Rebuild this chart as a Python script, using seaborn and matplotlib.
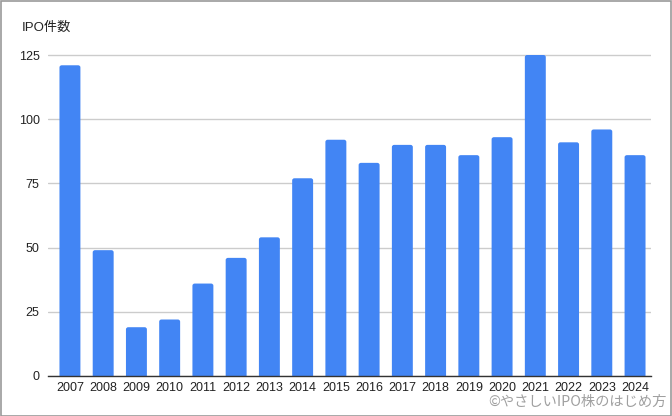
import matplotlib
matplotlib.use("Agg")
import matplotlib.pyplot as plt
from matplotlib.patches import FancyBboxPatch
import seaborn as sns
import pandas as pd

years = ["2007", "2008", "2009", "2010", "2011", "2012", "2013", "2014", "2015",
         "2016", "2017", "2018", "2019", "2020", "2021", "2022", "2023", "2024"]
ipo_counts = [121, 49, 19, 22, 36, 46, 54, 77, 92, 83, 90, 90, 86, 93, 125, 91, 96, 86]
y_ticks = [0, 25, 50, 75, 100, 125]
y_title = "IPO件数"
watermark = "©やさしいIPO株のはじめ方"

sns.set_theme(style="white")
plt.rcParams['font.family'] = ['Liberation Sans', 'Noto Sans CJK JP', 'DejaVu Sans']

df = pd.DataFrame({"year": years, "count": ipo_counts})

fig = plt.figure(figsize=(6.72, 4.16), dpi=100)
# 0 at y=376px, 125 at y=55px; top of axes extends slightly beyond 125
ymax = 127
px_per_unit = (376 - 55) / 125
ax_h = ymax * px_per_unit
ax = fig.add_axes([48/672, 40/416, (651-48)/672, ax_h/416])

sns.barplot(data=df, x="year", y="count", color="#4285F4", width=0.63,
            saturation=1, ax=ax, zorder=3)

ax.set_ylim(0, ymax)
ax.set_xlim(-0.66, 17.48)

# round the top corners of the bars
for p in list(ax.patches):
    x0, w, h = p.get_x(), p.get_width(), p.get_height()
    fb = FancyBboxPatch((x0, -2), w, h + 2,
                        boxstyle="round,pad=0,rounding_size=0.07",
                        mutation_aspect=12, facecolor=p.get_facecolor(),
                        edgecolor="none", zorder=3, clip_on=True)
    p.set_visible(False)
    ax.add_patch(fb)

ax.set_yticks(y_ticks)
ax.set_yticklabels([str(t) for t in y_ticks])
ax.yaxis.grid(True, color="#cccccc", linewidth=1)
ax.set_axisbelow(True)
ax.set_xlabel("")
ax.set_ylabel("")
for s in ["top", "right", "left"]:
    ax.spines[s].set_visible(False)
ax.spines["bottom"].set_color("#333333")
ax.spines["bottom"].set_linewidth(1)
ax.spines["bottom"].set_zorder(5)
ax.tick_params(axis="both", length=0, labelsize=9, colors="#222222")
ax.tick_params(axis="x", pad=4)
ax.tick_params(axis="y", pad=6)

fig.text(22/672, 1 - 28/416, y_title, fontsize=9.5, color="#222222",
         va="center", ha="left", family=['Liberation Sans', 'Noto Sans CJK JP'])
fig.text(667/672, 1 - 402/416, watermark, fontsize=10.3, color="#a0a0a0",
         va="center", ha="right", family=['Noto Sans CJK JP', 'DejaVu Sans'])

# figure border
fig.patches.append(plt.Rectangle((0.001, 0.001), 0.998, 0.997, transform=fig.transFigure,
                                 fill=False, edgecolor="#999999", linewidth=1.2))

fig.savefig("out.png", dpi=100)
